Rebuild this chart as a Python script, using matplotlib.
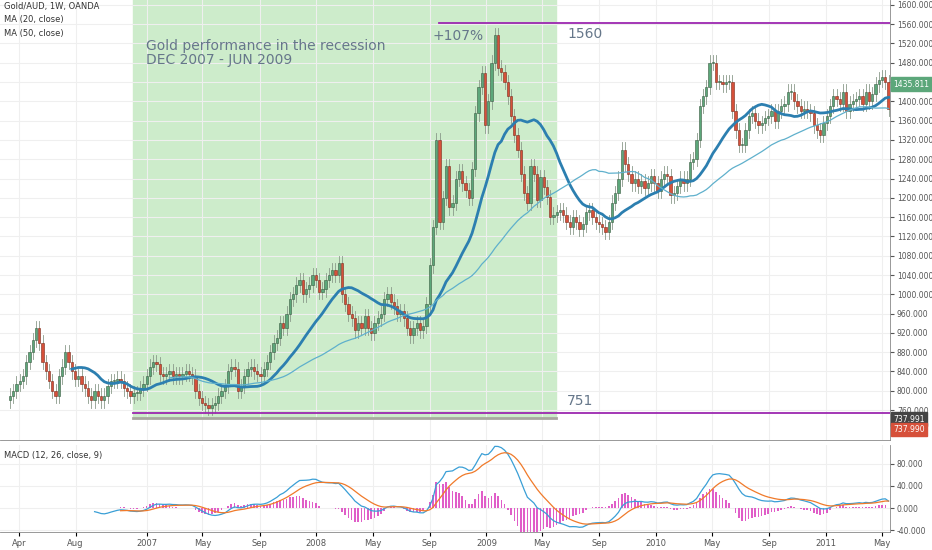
import numpy as np, pandas as pd
import matplotlib
matplotlib.use("Agg")
import matplotlib.pyplot as plt
from matplotlib.patches import Rectangle

start = pd.Timestamp("2006-03-13")
closes = [790,800,815,820,830,860,880,905,930,900,860,840,820,800,790,830,850,880,860,840,825,830,815,805,790,780,800,790,780,790,810,820,820,825,820,805,800,790,795,
795,805,815,830,850,860,855,835,830,835,840,830,835,830,835,840,835,830,800,785,775,770,765,770,775,790,800,810,840,850,845,
800,810,830,845,850,840,
835,830,845,860,880,900,910,940,930,960,990,1000,1020,1030,1000,1010,1020,
1040,1030,1005,1010,1030,1040,1050,1040,1065,
1000,980,960,950,925,940,930,955,930,920,940,950,
960,990,1000,985,975,960,965,950,930,915,930,940,925,
935,980,1060,1140,1320,
1150,1200,1265,1180,1190,1240,1255,1230,1216,1200,1260,1375,1430,1459,1350,1400,1480,1537,1470,1460,1440,1410,1370,1330,1300,1250,1210,1190,1265,1250,1195,1243,1222,1202,1160,
1165,1170,1175,1165,1150,1140,1160,1150,1135,1145,1170,1175,1160,1150,1145,1140,1130,1150,1190,1210,1240,1300,
1270,1250,1230,1240,1225,1235,1220,1230,1245,1230,1215,1240,
1250,1245,1205,1210,1225,1240,1230,1240,1275,1280,1320,1390,1410,1430,1480,1480,1440,1440,1435,1440,1440,
1380,1340,1310,1310,1340,1370,1375,1360,1350,1355,1365,1370,1380,1360,1380,1390,1395,1420,1420,1400,1390,1380,1385,1380,1375,1350,1340,1330,1355,1370,1390,1410,1405,1395,1420,1380,1395,1400,1405,1410,1395,1420,1400,1415,1435,1445,1450,1440,1385]
tick_labels = ["Apr","Aug","2007","May","Sep","2008","May","Sep","2009","May","Sep","2010","May","Sep","2011","May"]
tick_dates = ["2006-04-01","2006-08-01","2007-01-01","2007-05-01","2007-09-01","2008-01-01","2008-05-01","2008-09-01",
              "2009-01-01","2009-05-01","2009-09-01","2010-01-01","2010-05-01","2010-09-01","2011-01-01","2011-05-01"]
price_ticks = list(range(760, 1601, 40))
macd_ticks = [80, 40, 0, -40]

c = pd.Series(closes, dtype=float)
o = c.shift(1).fillna(c.iloc[0] - 10)
n = len(c)
idx = np.arange(n)
ma20 = c.rolling(20).mean(); ma50 = c.rolling(50).mean()
ema12 = c.ewm(span=12, adjust=False).mean(); ema26 = c.ewm(span=26, adjust=False).mean()
macd = ema12 - ema26; sig = macd.ewm(span=9, adjust=False).mean(); hist = macd - sig
macd[:26] = np.nan; sig[:34] = np.nan; hist[:34] = np.nan
def widx(d): return (pd.Timestamp(d) - start).days / 7

W, H = 932, 550
fig = plt.figure(figsize=(9.32, 5.5), dpi=100)
xl = (-10/3.26, 880/3.26 + 0.5)
ax = fig.add_axes([0, 1-440/H, 890/W, 440/H])
ax2 = fig.add_axes([0, 1-532/H, 890/W, 87/H])
grid = "#efefef"
for a in (ax, ax2):
    a.set_xlim(*xl)
    a.set_xticks([widx(d) for d in tick_dates])
    a.grid(True, color=grid, lw=0.8); a.set_axisbelow(True)
    a.yaxis.tick_right()
    a.tick_params(axis='y', labelsize=5.5, length=3, colors="#555", pad=2)
    for s in a.spines.values(): s.set_color("#888"); s.set_linewidth(0.6)
    a.spines['top'].set_visible(False); a.spines['left'].set_visible(False)
ax.set_xticklabels([])
ax.tick_params(axis='x', length=0)
ax2.set_xticklabels(tick_labels, fontsize=6, color="#555")
ax2.tick_params(axis='x', length=3, pad=2)
ax.set_ylim(698, 1610)
ax.set_yticks(price_ticks); ax.set_yticklabels([f"{p}.000" for p in price_ticks])
ax2.set_ylim(-43.6, 114.5)
ax2.set_yticks(macd_ticks); ax2.set_yticklabels([f"{m:.3f}" if m else "0.000" for m in macd_ticks])

x0 = (133-10)/3.26
x1 = (557-10)/3.26
x2 = (440-10)/3.26
ax.add_patch(Rectangle((x0, 743), x1-x0, 1700, color="#cdeccb", zorder=0.5))
ax.plot([x0, x1], [743, 743], color="#a8a8a0", lw=2, zorder=3)
ax.plot([x0, xl[1]], [755, 755], color="#9c27b0", lw=1.3, zorder=3)
ax.plot([x2, xl[1]], [1563, 1563], color="#9c27b0", lw=1.3, zorder=3)

up, dn = "#5ca77a", "#d6503a"
for i in idx:
    op, cl = o[i], c[i]
    col = up if cl >= op else dn
    hi, lo = max(op, cl) + 15, min(op, cl) - 15
    ax.plot([i, i], [lo, hi], color="#8a9a8a", lw=0.6, zorder=2)
    ax.add_patch(Rectangle((i-0.35, min(op, cl)), 0.7, max(abs(cl-op), 1.5), facecolor=col,
                           edgecolor="#3a5a40" if col == up else "#7a2a1a", lw=0.4, zorder=2.5))
ax.plot(idx, ma20, color="#2c7fb0", lw=2, zorder=4)
ax.plot(idx, ma50, color="#5fb0cc", lw=0.9, zorder=4)

tc = "#66778a"
ax.text(x0+4, 1530, "Gold performance in the recession\nDEC 2007 - JUN 2009", fontsize=10, color=tc, va='top', linespacing=1.0)
ax.text(x2-2, 1550, "+107%", fontsize=10, color=tc, va='top')
ax.text((568-10)/3.26, 1555, "1560", fontsize=10, color=tc, va='top')
ax.text((568-10)/3.26, 765, "751", fontsize=10, color=tc, va='bottom')
ax.text(0.004, 0.995, "Gold/AUD, 1W, OANDA\nMA (20, close)\nMA (50, close)", transform=ax.transAxes,
        fontsize=6, color="#333", va='top', linespacing=1.6)
ax2.text(0.004, 0.93, "MACD (12, 26, close, 9)", transform=ax2.transAxes, fontsize=6, color="#333", va='top')

ax2.bar(idx, hist*1.4, width=0.5, color="#e05ec8", zorder=2)
ax2.plot(idx, macd, color="#3a9fd6", lw=0.9, zorder=3)
ax2.plot(idx, sig, color="#f07a2a", lw=0.9, zorder=3)

for yv, txt, col in [(1435.811, "1435.811", "#5ca77a"), (741, "737.991", "#444"), (720, "737.990", "#d6503a")]:
    ax.text(1.004, yv, txt, transform=ax.get_yaxis_transform(), fontsize=5.5, color="white", va='center',
            bbox=dict(boxstyle="square,pad=0.3", fc=col, ec=col), zorder=10, clip_on=False)
fig.savefig("out.png", dpi=100)
